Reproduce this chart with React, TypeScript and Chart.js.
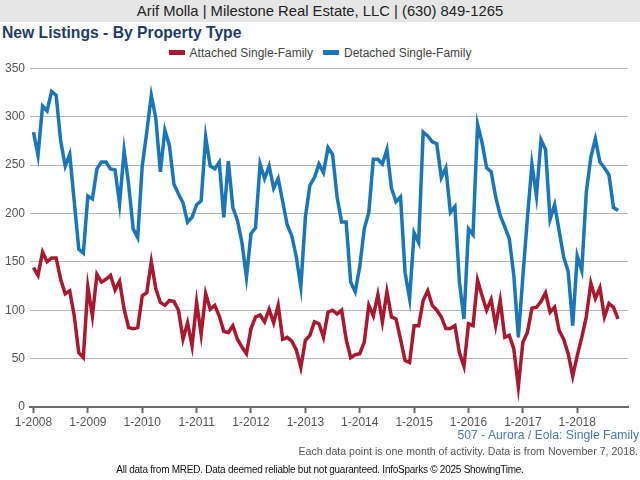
import React, { useEffect, useRef } from "react";
import { Chart, registerables } from "chart.js";

Chart.register(...registerables);

// Monthly series, Jan 2008 – Oct 2018
const seriesNames = ["Attached Single-Family", "Detached Single-Family"];

const attached = [
  144, 136, 160, 150, 154, 154, 132, 117, 120, 94, 56, 51,
  124, 94, 137, 129, 132, 136, 121, 130, 101, 82, 81, 82,
  115, 118, 150, 122, 108, 105, 110, 109, 100, 70, 87, 63,
  108, 75, 117, 101, 105, 94, 78, 77, 84, 70, 62, 55,
  81, 93, 95, 88, 101, 87, 105, 70, 72, 68, 59, 41,
  69, 74, 88, 86, 72, 98, 100, 96, 100, 70, 51, 54,
  55, 67, 105, 94, 116, 88, 119, 93, 91, 70, 48, 46,
  84, 84, 110, 120, 105, 100, 93, 81, 81, 84, 56, 42,
  86, 84, 131, 115, 100, 111, 84, 110, 72, 74, 60, 21,
  67, 77, 102, 103, 109, 118, 98, 103, 79, 70, 55, 32,
  53, 72, 93, 128, 112, 123, 93, 107, 103, 91,
];

const detached = [
  284, 260, 311, 306, 326, 322, 275, 249, 261, 212, 163, 159,
  218, 215, 246, 253, 253, 246, 245, 210, 265, 230, 184, 175,
  249, 284, 322, 298, 243, 286, 270, 230, 220, 211, 191, 196,
  209, 213, 279, 249, 246, 253, 196, 254, 206, 193, 170, 134,
  179, 185, 251, 236, 249, 226, 236, 212, 188, 177, 155, 124,
  196, 229, 237, 251, 242, 268, 261, 217, 191, 191, 129, 119,
  145, 184, 201, 256, 256, 251, 266, 226, 212, 217, 139, 112,
  180, 170, 284, 280, 274, 272, 237, 247, 201, 207, 129, 91,
  184, 178, 292, 273, 247, 243, 217, 198, 186, 174, 136, 72,
  135, 195, 251, 218, 276, 266, 194, 209, 182, 155, 140, 84,
  156, 141, 222, 258, 277, 253, 247, 240, 206, 203,
];

const xTickLabels = [
  "1-2008", "1-2009", "1-2010", "1-2011", "1-2012", "1-2013",
  "1-2014", "1-2015", "1-2016", "1-2017", "1-2018",
];

const RED = "#a8192f";
const BLUE = "#1b76b9";
const FONT = "'Liberation Sans', Arial, Helvetica, sans-serif";

export default function App() {
  const canvasRef = useRef<HTMLCanvasElement>(null);

  useEffect(() => {
    const canvas = canvasRef.current;
    if (!canvas) return;
    const toPoints = (arr: number[]) => arr.map((y, i) => ({ x: i, y }));
    const chart = new Chart(canvas, {
      type: "line",
      data: {
        datasets: [
          {
            label: seriesNames[0],
            data: toPoints(attached),
            borderColor: RED,
            backgroundColor: RED,
            borderWidth: 3.5,
            pointRadius: 0,
            tension: 0,
            fill: false,
          },
          {
            label: seriesNames[1],
            data: toPoints(detached),
            borderColor: BLUE,
            backgroundColor: BLUE,
            borderWidth: 3.5,
            pointRadius: 0,
            tension: 0,
            fill: false,
          },
        ],
      },
      options: {
        animation: false,
        responsive: false,
        layout: { padding: { left: 0, right: 12, top: 4, bottom: 0 } },
        plugins: {
          legend: { display: false },
          tooltip: { enabled: false },
        },
        scales: {
          x: {
            type: "linear",
            min: -0.77,
            max: 131.2,
            afterBuildTicks: (axis: any) => {
              axis.ticks = xTickLabels.map((_, k) => ({ value: k * 12 }));
            },
            afterFit: (axis: any) => {
              axis.height = 33;
            },
            ticks: {
              autoSkip: false,
              maxRotation: 0,
              padding: 2,
              color: "#555",
              font: { family: FONT, size: 12 },
              callback: (v: any) => xTickLabels[Math.round(Number(v) / 12)] ?? "",
            },
            grid: {
              drawOnChartArea: false,
              drawTicks: true,
              tickLength: 6,
              tickWidth: 2,
              tickColor: "#6a6a6a",
            },
            border: { display: true, color: "#6a6a6a", width: 2 },
          },
          y: {
            min: 0,
            max: 350,
            afterFit: (axis: any) => {
              axis.width = 30;
            },
            ticks: {
              stepSize: 50,
              padding: 5,
              color: "#555",
              font: { family: FONT, size: 12 },
            },
            grid: { color: "#b8b8b8", lineWidth: 1, drawTicks: false },
            border: { display: false },
          },
        },
      },
    });
    return () => chart.destroy();
  }, []);

  const swatch = (color: string): React.CSSProperties => ({
    display: "inline-block",
    width: 16,
    height: 5,
    background: color,
    marginRight: 5,
    verticalAlign: "middle",
    position: "relative",
    top: -1,
  });

  return (
    <div
      style={{
        position: "fixed",
        left: 0,
        top: 0,
        width: 640,
        height: 480,
        background: "#fff",
        fontFamily: FONT,
        overflow: "hidden",
      }}
    >
      <div
        style={{
          position: "absolute",
          left: 0,
          top: 0,
          width: 640,
          height: 22,
          background: "#e6e6e6",
          color: "#222",
          fontSize: 14.8,
          lineHeight: "22px",
          textAlign: "center",
          whiteSpace: "nowrap",
        }}
      >
        Arif Molla | Milestone Real Estate, LLC | (630) 849-1265
      </div>
      <div
        style={{
          position: "absolute",
          left: 2,
          top: 24,
          fontSize: 15.7,
          fontWeight: "bold",
          color: "#1f3d66",
          lineHeight: "18px",
          whiteSpace: "nowrap",
        }}
      >
        New Listings - By Property Type
      </div>
      <div
        style={{
          position: "absolute",
          left: 0,
          top: 45,
          width: 640,
          textAlign: "center",
          fontSize: 12,
          lineHeight: "16px",
          color: "#444",
          whiteSpace: "nowrap",
        }}
      >
        <span style={{ marginRight: 10 }}>
          <span style={swatch(RED)} />
          {seriesNames[0]}
        </span>
        <span>
          <span style={swatch(BLUE)} />
          {seriesNames[1]}
        </span>
      </div>
      <canvas
        ref={canvasRef}
        width={640}
        height={384}
        style={{ position: "absolute", left: 0, top: 56, width: 640, height: 384 }}
      />
      <div
        style={{
          position: "absolute",
          right: 1,
          top: 427,
          fontSize: 12.2,
          lineHeight: "16px",
          color: "#4a78b0",
          whiteSpace: "nowrap",
        }}
      >
        507 - Aurora / Eola: Single Family
      </div>
      <div
        style={{
          position: "absolute",
          right: 2,
          top: 444,
          fontSize: 10.6,
          lineHeight: "14px",
          color: "#555",
          whiteSpace: "nowrap",
        }}
      >
        Each data point is one month of activity. Data is from November 7, 2018.
      </div>
      <div
        style={{
          position: "absolute",
          left: 0,
          top: 463,
          width: 640,
          textAlign: "center",
          fontSize: 10,
          lineHeight: "14px",
          color: "#111",
          whiteSpace: "nowrap",
          letterSpacing: -0.25,
        }}
      >
        All data from MRED. Data deemed reliable but not guaranteed. InfoSparks © 2025 ShowingTime.
      </div>
    </div>
  );
}
